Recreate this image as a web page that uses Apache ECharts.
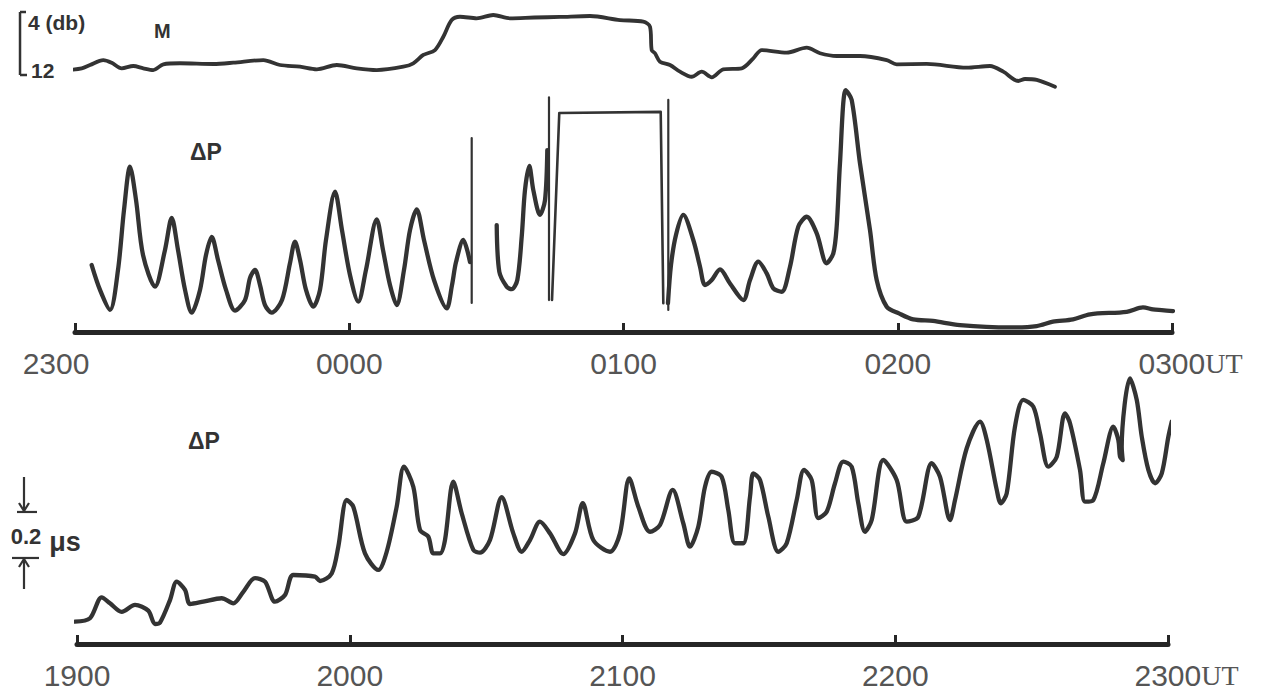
<!DOCTYPE html>
<html>
<head>
<meta charset="utf-8">
<script src="https://cdn.jsdelivr.net/npm/echarts@6/dist/echarts.min.js"></script>
<style>
html,body{margin:0;padding:0;background:#fff;}
#chart{width:1267px;height:692px;}
</style>
</head>
<body>
<div id="chart"></div>
<script>
// ---- tick labels (minutes from start of each panel, every 60 min) ----
const topTicks = ['2300', '0000', '0100', '0200', '0300'];
const bottomTicks = ['1900', '2000', '2100', '2200', '2300'];

// ---- M (signal amplitude, dB), time in minutes after 2300 UT ----
const mTrace = [
  [-1.47,11.37],[1.47,11.15],[3.28,10.73],[6.19,10.10],[8.03,10.44],[10.22,11.15],[12.75,10.86],
  [14.94,11.15],[17.13,11.37],[19.32,10.64],[22.97,10.51],[30.26,10.60],[34.63,10.44],[41.20,10.10],
  [44.85,10.73],[49.23,10.95],[52.88,11.28],[57.26,10.73],[61.63,11.15],[66.01,11.37],[71.83,10.95],
  [74.01,10.51],[76.20,9.46],[78.76,8.83],[80.58,7.14],[82.41,5.02],[84.23,4.60],[87.88,4.80],
  [91.51,4.38],[95.17,4.80],[100.5,4.70],[106.11,4.63],[112.67,4.51],[119.23,5.02],[124.33,5.23],
  [125.80,5.87],[126.17,8.83],[126.89,9.24],[127.98,10.31],[130.17,10.73],[132.36,11.58],[134.92,12.22],
  [137.11,11.58],[139.30,12.29],[141.83,11.28],[145.86,11.15],[148.40,9.88],[150.24,8.83],[155.70,9.17],
  [160.08,8.53],[162.99,9.24],[166.64,9.59],[171.74,9.59],[177.58,10.10],[179.77,10.64],[186.33,10.60],
  [195.08,11.07],[200.18,10.86],[203.09,11.58],[206.37,12.76],[207.84,12.51],[210.40,12.63],[214.40,13.49]
];
const mScale = [[-12.03, 4, 12]];

// ---- Top ΔP (microseconds), minutes after 2300 UT ----
const dpTopA = [
  [3.65,0.291],[5.47,0.183],[7.66,0.096],[9.41,0.270],[10.72,0.530],[12.03,0.719],[13.35,0.574],
  [14.88,0.335],[17.50,0.197],[19.69,0.357],[21.16,0.496],[22.53,0.357],[24.07,0.183],[25.53,0.084],
  [27.35,0.183],[28.66,0.335],[29.91,0.414],[31.29,0.313],[33.04,0.183],[35.00,0.093],[37.19,0.139],
  [38.29,0.235],[39.38,0.270],[40.48,0.204],[41.57,0.117],[43.03,0.084],[45.29,0.139],[47.04,0.300],
  [48.13,0.393],[49.23,0.313],[50.54,0.183],[52.14,0.110],[53.60,0.183],[54.91,0.400],[56.88,0.610],
  [58.41,0.443],[60.16,0.248],[61.98,0.132],[63.66,0.270],[66.01,0.490],[67.38,0.357],[68.91,0.204],
  [70.38,0.117],[71.98,0.270],[73.29,0.443],[74.76,0.533],[76.35,0.400],[78.54,0.226],[81.32,0.103],
  [82.48,0.204],[83.36,0.304],[84.95,0.400],[86.42,0.304]
];
const dpTopB = [
  [92.26,0.465],[92.83,0.262],[94.45,0.197],[95.54,0.186],[96.77,0.226],[97.73,0.414],[98.45,0.617],
  [99.39,0.722],[100.27,0.617],[101.73,0.509],[102.83,0.574],[103.33,0.791]
];
const dpTopC = [
  [129.73,0.126],[130.39,0.291],[131.48,0.422],[133.08,0.509],[135.27,0.400],[136.74,0.284],[137.83,0.204],
  [139.30,0.226],[141.11,0.272],[143.30,0.211],[146.21,0.139],[147.68,0.226],[149.49,0.306],[151.33,0.255],
  [152.77,0.190],[154.61,0.175],[156.43,0.284],[158.24,0.458],[160.08,0.501],[162.27,0.429],[164.45,0.299],
  [165.90,0.342],[166.64,0.458],[167.36,0.733],[168.61,1.052],[169.92,1.009],[171.74,0.733],[173.93,0.443],
  [175.39,0.226],[177.58,0.110],[180.27,0.081],[183.40,0.055],[187.71,0.048],[193.62,0.030],[204.56,0.020],
  [210.40,0.026],[213.96,0.045],[218.34,0.055],[222.06,0.077],[230.09,0.088],[233.65,0.107],[235.84,0.098],
  [237.74,0.095],[240.21,0.091]
];
const dpSpike1 = [[86.79,0.843],[86.79,0.126]];
const dpSpike2 = [[103.70,1.020],[103.70,0.139]];
const dpSaturated = [[104.36,0.139],[105.95,0.952],[128.14,0.957],[128.71,0.125]];
const dpSpike3 = [[129.80,1.009],[129.80,0.096]];

// ---- Bottom ΔP (microseconds), minutes after 1900 UT ----
const dpBottom = [
  [-0.44,0.097],[2.86,0.112],[5.43,0.203],[7.26,0.177],[9.83,0.140],[12.76,0.170],[15.68,0.145],
  [17.16,0.087],[18.26,0.093],[20.46,0.191],[21.93,0.271],[23.76,0.235],[24.86,0.174],[27.78,0.184],
  [31.83,0.199],[34.38,0.177],[36.58,0.227],[39.16,0.286],[41.36,0.271],[43.56,0.184],[45.76,0.213],
  [47.58,0.300],[52.36,0.293],[53.46,0.274],[56.03,0.307],[57.48,0.423],[59.33,0.626],[60.78,0.597],
  [63.35,0.394],[66.28,0.322],[68.13,0.401],[70.33,0.597],[71.93,0.771],[73.98,0.684],[75.45,0.496],
  [77.28,0.467],[78.38,0.394],[79.85,0.394],[80.95,0.452],[82.78,0.706],[84.63,0.568],[87.18,0.409],
  [88.65,0.397],[90.85,0.452],[93.43,0.638],[95.98,0.481],[97.83,0.401],[99.65,0.452],[101.85,0.532],
  [104.05,0.481],[106.98,0.391],[109.55,0.481],[111.25,0.612],[113.58,0.452],[117.25,0.401],[119.45,0.481],
  [121.50,0.720],[123.48,0.597],[126.05,0.488],[128.25,0.517],[131.04,0.670],[133.37,0.525],[134.85,0.423],
  [136.67,0.510],[138.15,0.684],[139.62,0.749],[141.82,0.727],[143.27,0.583],[144.75,0.438],[146.58,0.438],
  [148.05,0.640],[148.78,0.742],[150.25,0.713],[152.08,0.553],[154.28,0.401],[156.12,0.438],[158.32,0.626],
  [159.93,0.757],[161.62,0.713],[163.07,0.547],[164.92,0.575],[166.75,0.699],[168.57,0.793],[170.42,0.771],
  [171.87,0.612],[173.34,0.488],[174.82,0.539],[177.37,0.800],[180.32,0.713],[182.52,0.532],[185.07,0.553],
  [188.02,0.786],[189.85,0.727],[192.05,0.539],[193.15,0.626],[195.72,0.851],[198.65,0.967],[200.13,0.887],
  [202.33,0.670],[203.20,0.612],[204.52,0.655],[206.34,0.945],[208.17,1.061],[210.37,1.032],[211.84,0.916],
  [213.67,0.771],[215.52,0.814],[217.34,1.003],[218.44,0.960],[220.64,0.757],[221.74,0.619],[223.57,0.626],
  [225.77,0.786],[227.97,0.945],[229.07,0.887],[229.45,0.814],[230.04,0.800],[229.82,0.858],[231.65,1.155],
  [233.13,1.061],[234.23,0.901],[235.68,0.757],[237.15,0.699],[238.63,0.742],[240.08,0.901],[240.83,0.967]
];
const dpScaleBar = [[-11.66, 0.374, 0.574]];   // 0.2 µs bar
const scaleText = ['0.2', 'μs'];

// ---------------- chart ----------------
const INK = '#333333';
const AXIS = '#262626';
const LBL = '#555';
const HAND = 'Liberation Sans';

function tickLabel(arr, v, first) {
  const i = Math.round(v / 60);
  const s = arr[i];
  if (i === arr.length - 1) return '{sp| }' + s + '{u|UT}';
  if (i === 0 && first) return s + '{sl| }';
  return s;
}

function xAxisShown(grid, arr, shiftFirst) {
  return {
    type: 'value', gridIndex: grid, min: 0, max: 240, interval: 60,
    axisLine: { show: true, onZero: false, lineStyle: { color: AXIS, width: 5 } },
    axisTick: { show: true, inside: true, length: 9, lineStyle: { color: AXIS, width: 3 } },
    splitLine: { show: false },
    axisLabel: {
      show: true, margin: 16, fontSize: 30, color: LBL, fontFamily: 'Liberation Sans',
      showMinLabel: true, showMaxLabel: true,
      formatter: v => tickLabel(arr, v, shiftFirst),
      rich: {
        u: { fontFamily: 'Liberation Serif', fontSize: 28, color: LBL },
        sp: { width: 37, fontSize: 28 },
        sl: { width: 38, fontSize: 28 }
      }
    }
  };
}

const hiddenX = g => ({ type: 'value', gridIndex: g, min: 0, max: 240, show: false });

function lineSeries(data, xi, yi, width, smooth) {
  return {
    type: 'line', xAxisIndex: xi, yAxisIndex: yi, data: data,
    showSymbol: false, symbol: 'none', smooth: smooth, clip: false,
    lineStyle: { color: INK, width: width, cap: 'round', join: 'round' },
    emphasis: { disabled: true }, silent: true, z: 3
  };
}

function txt(x, y, text, size, align) {
  return { type: 'text', x: x, y: y, style: {
    text: text, fontSize: size, fontWeight: 'bold', fontFamily: HAND,
    fill: '#333', align: align, verticalAlign: 'middle' } };
}

const chart = echarts.init(document.getElementById('chart'), null, { renderer: 'svg' });
chart.setOption({
  backgroundColor: '#fff',
  animation: false,
  title: [
    { text: 'M', left: 154, top: 21, padding: 0, textStyle: { fontSize: 20, fontWeight: 'bold', color: '#333', fontFamily: HAND } },
    { text: 'ΔP', left: 190, top: 140, padding: 0, textStyle: { fontSize: 23, fontWeight: 'bold', color: '#333', fontFamily: HAND } },
    { text: 'ΔP', left: 188, top: 429, padding: 0, textStyle: { fontSize: 23, fontWeight: 'bold', color: '#333', fontFamily: HAND } }
  ],
  grid: [
    { left: 75, width: 1097, top: 12, height: 63, outerBoundsMode: 'none' },
    { left: 75, width: 1097, top: 56, height: 276, outerBoundsMode: 'none' },
    { left: 77, width: 1091, top: 368, height: 276, outerBoundsMode: 'none' }
  ],
  xAxis: [
    hiddenX(0),
    xAxisShown(1, topTicks, true),
    xAxisShown(2, bottomTicks, false)
  ],
  yAxis: [
    { type: 'value', gridIndex: 0, min: 4, max: 12, inverse: true, show: false },
    { type: 'value', gridIndex: 1, min: 0, max: 1.2, show: false },
    { type: 'value', gridIndex: 2, min: 0, max: 1.2, show: false }
  ],
  series: [
    lineSeries(mTrace, 0, 0, 3.8, 0.3),
    lineSeries(dpTopA, 1, 1, 4.3, 0.3),
    lineSeries(dpTopB, 1, 1, 4.3, 0.3),
    lineSeries(dpTopC, 1, 1, 4.3, 0.3),
    lineSeries(dpSpike1, 1, 1, 2.2, false),
    lineSeries(dpSpike2, 1, 1, 2.2, false),
    lineSeries(dpSaturated, 1, 1, 2.6, false),
    lineSeries(dpSpike3, 1, 1, 2.2, false),
    lineSeries(dpBottom, 2, 2, 4.3, 0.3),
    {
      type: 'custom', xAxisIndex: 0, yAxisIndex: 0, data: mScale, clip: false, silent: true,
      encode: { x: 0, y: [1, 2] },
      renderItem: function (params, api) {
        const a = api.coord([api.value(0), api.value(1)]);
        const b = api.coord([api.value(0), api.value(2)]);
        const st = { stroke: '#333', lineWidth: 2.5, fill: 'none' };
        return { type: 'group', children: [
          { type: 'line', shape: { x1: a[0], y1: a[1], x2: b[0], y2: b[1] }, style: st },
          { type: 'line', shape: { x1: a[0], y1: a[1], x2: a[0] + 6, y2: a[1] }, style: st },
          { type: 'line', shape: { x1: b[0], y1: b[1], x2: b[0] + 7, y2: b[1] }, style: st },
          txt(a[0] + 8, a[1] + 10, api.value(1) + ' (db)', 21, 'left'),
          txt(b[0] + 11, b[1] - 5, String(api.value(2)), 21, 'left')
        ] };
      }
    },
    {
      type: 'custom', xAxisIndex: 2, yAxisIndex: 2, data: dpScaleBar, clip: false, silent: true,
      encode: { x: 0, y: [1, 2] },
      renderItem: function (params, api) {
        const lo = api.coord([api.value(0), api.value(1)]);
        const hi = api.coord([api.value(0), api.value(2)]);
        const x = hi[0];
        const st = { stroke: '#333', lineWidth: 2.2, fill: 'none' };
        const mid = (lo[1] + hi[1]) / 2;
        return { type: 'group', children: [
          { type: 'line', shape: { x1: x - 7, y1: hi[1], x2: x + 13, y2: hi[1] }, style: st },
          { type: 'line', shape: { x1: x, y1: hi[1] - 35, x2: x, y2: hi[1] - 1 }, style: st },
          { type: 'polyline', shape: { points: [[x - 5, hi[1] - 9], [x, hi[1] - 1], [x + 5, hi[1] - 9]] }, style: st },
          { type: 'line', shape: { x1: x - 12, y1: lo[1], x2: x + 15, y2: lo[1] }, style: st },
          { type: 'line', shape: { x1: x, y1: lo[1] + 1, x2: x, y2: lo[1] + 31 }, style: st },
          { type: 'polyline', shape: { points: [[x - 5, lo[1] + 9], [x, lo[1] + 1], [x + 5, lo[1] + 9]] }, style: st },
          txt(x + 2, mid + 2, scaleText[0], 22, 'center'),
          txt(x + 41, mid + 7, scaleText[1], 27, 'center')
        ] };
      }
    }
  ]
});
</script>
</body>
</html>
